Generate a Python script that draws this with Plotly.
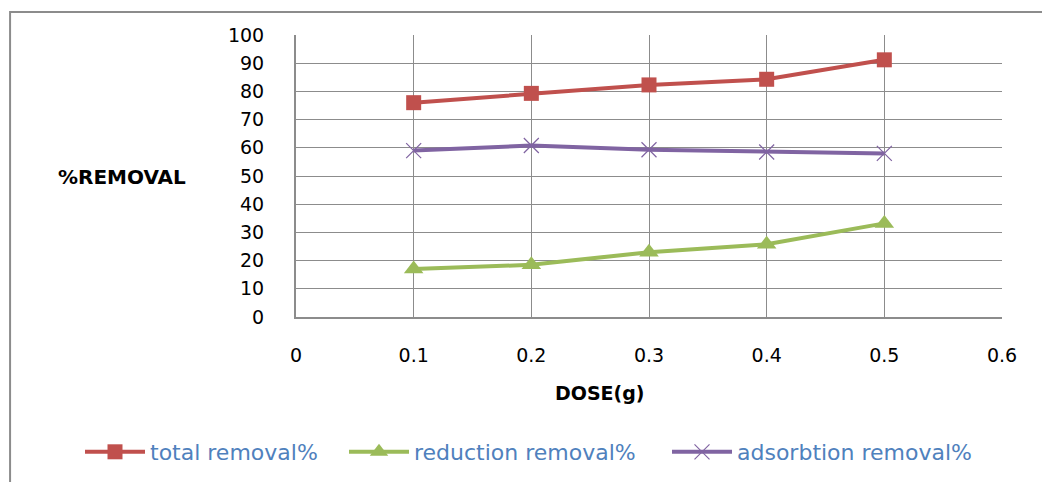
import plotly.graph_objects as go

# Dose of adsorbent (g) and removal percentages
dose = [0.1, 0.2, 0.3, 0.4, 0.5]
total_removal = [76.0, 79.3, 82.3, 84.3, 91.2]
reduction_removal = [17.0, 18.5, 23.0, 25.8, 33.2]
adsorption_removal = [59.0, 60.8, 59.3, 58.5, 58.0]

series_names = ["total removal%", "reduction removal%", "adsorbtion removal%"]
x_ticks = [0, 0.1, 0.2, 0.3, 0.4, 0.5, 0.6]
x_tick_text = ["0", "0.1", "0.2", "0.3", "0.4", "0.5", "0.6"]
y_ticks = list(range(0, 101, 10))

FONT = "'DejaVu Sans', sans-serif"
GRID = "#8c8c8c"
W, H = 1042, 482

fig = go.Figure()
fig.add_trace(go.Scatter(
    x=dose, y=total_removal, name=series_names[0], mode="lines+markers",
    line=dict(color="#C0504D", width=4),
    marker=dict(symbol="square", size=15, color="#C0504D"),
    legend="legend",
))
fig.add_trace(go.Scatter(
    x=dose, y=reduction_removal, name=series_names[1], mode="lines+markers",
    line=dict(color="#9BBB59", width=4),
    marker=dict(symbol="triangle-up", size=17, color="#9BBB59"),
    legend="legend2",
))
fig.add_trace(go.Scatter(
    x=dose, y=adsorption_removal, name=series_names[2], mode="lines+markers",
    line=dict(color="#8064A2", width=4),
    marker=dict(symbol="x-thin", size=15, line=dict(color="#8064A2", width=1.2)),
    legend="legend3",
))


def legend_at(text_left_px):
    # one legend box per series, laid out in a single row under the chart
    return dict(
        orientation="h", xref="container", yref="container",
        x=(text_left_px - 70) / W, xanchor="left",
        y=(H - 452) / H, yanchor="middle",
        itemwidth=60,
        font=dict(family=FONT, size=22, color="#4F81BD"),
        bgcolor="rgba(0,0,0,0)",
    )


fig.update_layout(
    width=W, height=H,
    margin=dict(l=296, r=40, t=35, b=165, autoexpand=False),
    paper_bgcolor="white", plot_bgcolor="white",
    font=dict(family=FONT, size=19, color="#000000"),
    showlegend=True,
    legend=legend_at(150),
    legend2=legend_at(414),
    legend3=legend_at(737),
    xaxis=dict(
        range=[0, 0.6], tickvals=x_ticks, ticktext=x_tick_text,
        showgrid=True, gridcolor=GRID, gridwidth=1,
        showline=True, linecolor=GRID, linewidth=2,
        zeroline=False, ticks="", ticklabelstandoff=20,
        tickfont=dict(family=FONT, size=19, color="#000"),
        fixedrange=True,
    ),
    yaxis=dict(
        range=[0, 100], tickvals=y_ticks,
        showgrid=True, gridcolor=GRID, gridwidth=1,
        showline=True, linecolor=GRID, linewidth=2,
        zeroline=False, ticks="", ticklabelstandoff=26,
        tickfont=dict(family=FONT, size=19, color="#000"),
        fixedrange=True,
    ),
    annotations=[
        dict(text="<b>%REMOVAL</b>", xref="paper", yref="paper",
             x=-0.246, y=0.496, xanchor="center", yanchor="middle",
             showarrow=False,
             font=dict(family=FONT, size=20, color="#000")),
        dict(text="<b>DOSE(g)</b>", xref="paper", yref="paper",
             x=0.431, y=-0.27, xanchor="center", yanchor="middle",
             showarrow=False,
             font=dict(family=FONT, size=19, color="#000")),
    ],
    shapes=[
        # outer chart frame
        dict(type="rect", xref="paper", yref="paper",
             x0=-0.405, x1=1.2, y0=-0.8, y1=1.0816,
             line=dict(color="#8c8c8c", width=2), layer="below"),
    ],
)

fig.write_html("out.html")
